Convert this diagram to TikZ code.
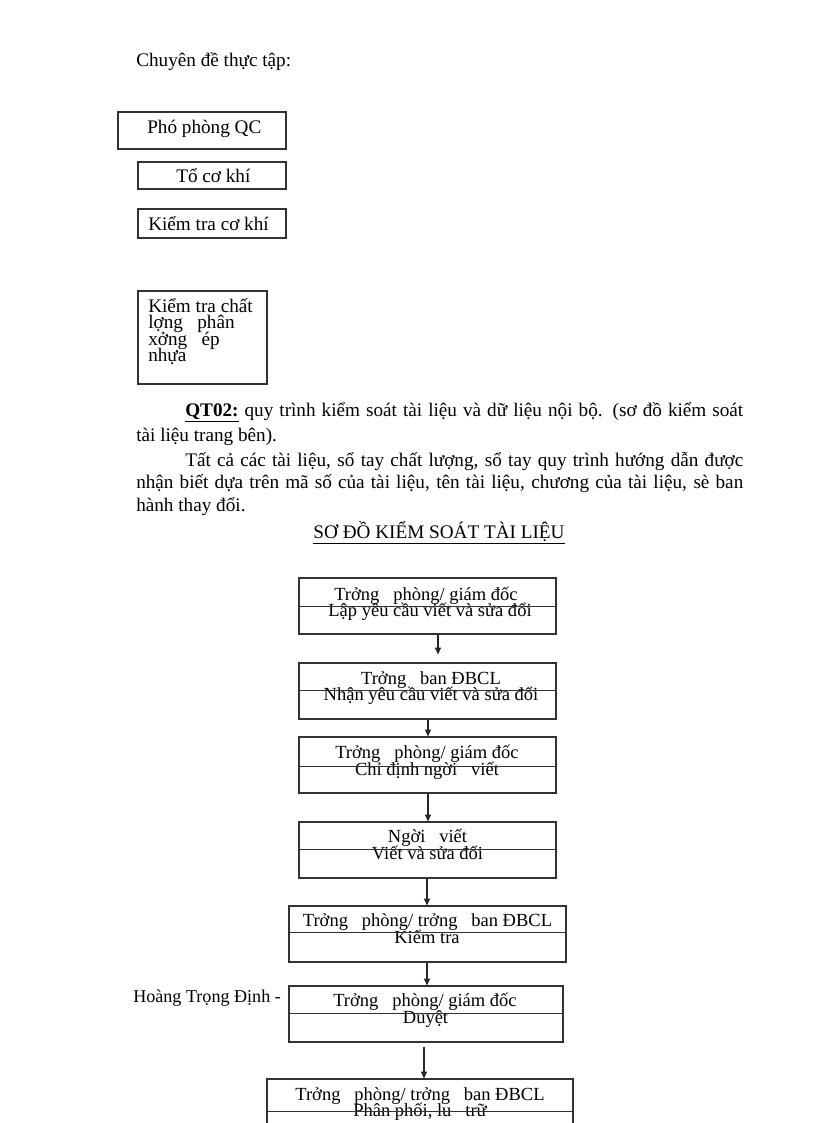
\documentclass[tikz,border=0pt]{standalone}
\usepackage{fontspec}
\setmainfont{Liberation Serif}
\usetikzlibrary{arrows.meta,fit,calc}
\newlength\pxu
\setlength\pxu{0.7295pt}
\begin{document}
\begin{tikzpicture}[x=0.7295pt,y=-0.7295pt,
  frame/.style={draw=black!80,line width=0.9pt,inner sep=0pt,fill=white},
  sepline/.style={draw=black!80,line width=0.9pt},
  txt/.style={inner sep=0pt,anchor=base west,font=\fontsize{14}{16}\selectfont},
  ctxt/.style={inner sep=0pt,anchor=base,font=\fontsize{14}{16}\selectfont},
  ftxt/.style={inner sep=0pt,anchor=base,font=\fontsize{13.5}{15}\selectfont},
  arr/.style={draw=black!85,line width=0.8pt,-{Triangle[length=5pt,width=4.5pt]}}]
\useasboundingbox[fill=white] (0,0) rectangle (816,1123);

% header
\node[txt] (hdr) at (136,66) {Chuyên đề thực tập:};

% top boxes
\node[frame,fit={(118,112)(286,149)}] (tb1) {};
\node[txt] (tt1) at (147,133) {Phó phòng QC};
\node[frame,fit={(138,162)(286,189)}] (tb2) {};
\node[txt] (tt2) at (176,182) {Tổ cơ khí};
\node[frame,fit={(138,209)(286,238)}] (tb3) {};
\node[txt] (tt3) at (148,230) {Kiểm tra cơ khí};
\node[frame,fit={(138,291)(267,384)}] (tb4) {};
\node[txt] (tt4a) at (148,312) {Kiểm tra chất};
\node[txt] (tt4b) at (148,328.5) {lợng\ \ \ phân};
\node[txt] (tt4c) at (148,345) {xởng\ \ \ ép};
\node[txt] (tt4d) at (148,361.5) {nhựa};

% paragraph
\node[txt] (p1) at (185,416) {\makebox[558\pxu][s]{\underline{\textbf{QT02:}} quy trình kiểm soát tài liệu và dữ liệu nội bộ. (sơ đồ kiểm soát}};
\node[txt] (p2) at (136,441) {tài liệu trang bên).};
\node[txt] (p3) at (185,466) {\makebox[558\pxu][s]{Tất cả các tài liệu, sổ tay chất lượng, sổ tay quy trình hướng dẫn được}};
\node[txt] (p4) at (136,488) {\makebox[607\pxu][s]{nhận biết dựa trên mã số của tài liệu, tên tài liệu, chương của tài liệu, sè ban}};
\node[txt] (p5) at (136,511) {hành thay đổi.};
\node[ctxt] (ttl) at (439,538) {\underline{SƠ ĐỒ KIỂM SOÁT TÀI LIỆU}};

% footer text (partly hidden by box 6)
\node[txt,font=\fontsize{13.2}{15}\selectfont] (ft) at (133,1002) {Hoàng Trọng Định -};

% flowchart boxes
\node[frame,fit={(299,578)(556,634)}] (b1) {};
\node[ftxt] (b1a) at (426,600) {Trởng\ \ \ phòng/ giám đốc};
\node[ftxt] (b1b) at (430,616) {Lập yêu cầu viết và sửa đổi};
\draw[sepline] ($(b1.north west)+(0,29)$) -- ($(b1.north east)+(0,29)$);

\node[frame,fit={(299,663)(556,719)}] (b2) {};
\node[ftxt] (b2a) at (431,684) {Trởng\ \ \ ban ĐBCL};
\node[ftxt] (b2b) at (431,700.5) {Nhận yêu cầu viết và sửa đổi};
\draw[sepline] ($(b2.north west)+(0,28)$) -- ($(b2.north east)+(0,28)$);

\node[frame,fit={(299,737)(556,793)}] (b3) {};
\node[ftxt] (b3a) at (427,758) {Trởng\ \ \ phòng/ giám đốc};
\node[ftxt] (b3b) at (427,775) {Chỉ định ngời\ \ \ viết};
\draw[sepline] ($(b3.north west)+(0,30)$) -- ($(b3.north east)+(0,30)$);

\node[frame,fit={(299,822)(556,878)}] (b4) {};
\node[ftxt] (b4a) at (427.5,842) {Ngời\ \ \ viết};
\node[ftxt] (b4b) at (427.5,859) {Viết và sửa đổi};
\draw[sepline] ($(b4.north west)+(0,28)$) -- ($(b4.north east)+(0,28)$);

\node[frame,fit={(289,906)(566,962)}] (b5) {};
\node[ftxt] (b5a) at (427.5,926.5) {Trởng\ \ \ phòng/ trởng\ \ \ ban ĐBCL};
\node[ftxt] (b5b) at (427,943) {Kiểm tra};
\draw[sepline] ($(b5.north west)+(0,27)$) -- ($(b5.north east)+(0,27)$);

\node[frame,fit={(289,986)(563,1042)}] (b6) {};
\node[ftxt] (b6a) at (425,1006.5) {Trởng\ \ \ phòng/ giám đốc};
\node[ftxt] (b6b) at (425.5,1023) {Duyệt};
\draw[sepline] ($(b6.north west)+(0,28)$) -- ($(b6.north east)+(0,28)$);

\node[frame,fit={(267,1079)(573,1140)}] (b7) {};
\node[ftxt] (b7a) at (420,1100) {Trởng\ \ \ phòng/ trởng\ \ \ ban ĐBCL};
\node[ftxt] (b7b) at (420,1116.5) {Phân phối, lu\ \ \ trữ};
\draw[sepline] ($(b7.north west)+(0,33)$) -- ($(b7.north east)+(0,33)$);

% arrows
\coordinate (x1) at (438,0);
\coordinate (x2) at (428,0);
\coordinate (x3) at (428,0);
\coordinate (x4) at (427,0);
\coordinate (x5) at (427,0);
\coordinate (x6) at (424,0);
\draw[arr] (b1.south -| x1) -- ($(b2.north -| x1)+(0,-8)$);
\draw[arr] (b2.south -| x2) -- (b3.north -| x2);
\draw[arr] (b3.south -| x3) -- (b4.north -| x3);
\draw[arr] (b4.south -| x4) -- (b5.north -| x4);
\draw[arr] (b5.south -| x5) -- (b6.north -| x5);
\draw[arr] ($(b6.south -| x6)+(0,4)$) -- (b7.north -| x6);
\end{tikzpicture}
\end{document}
